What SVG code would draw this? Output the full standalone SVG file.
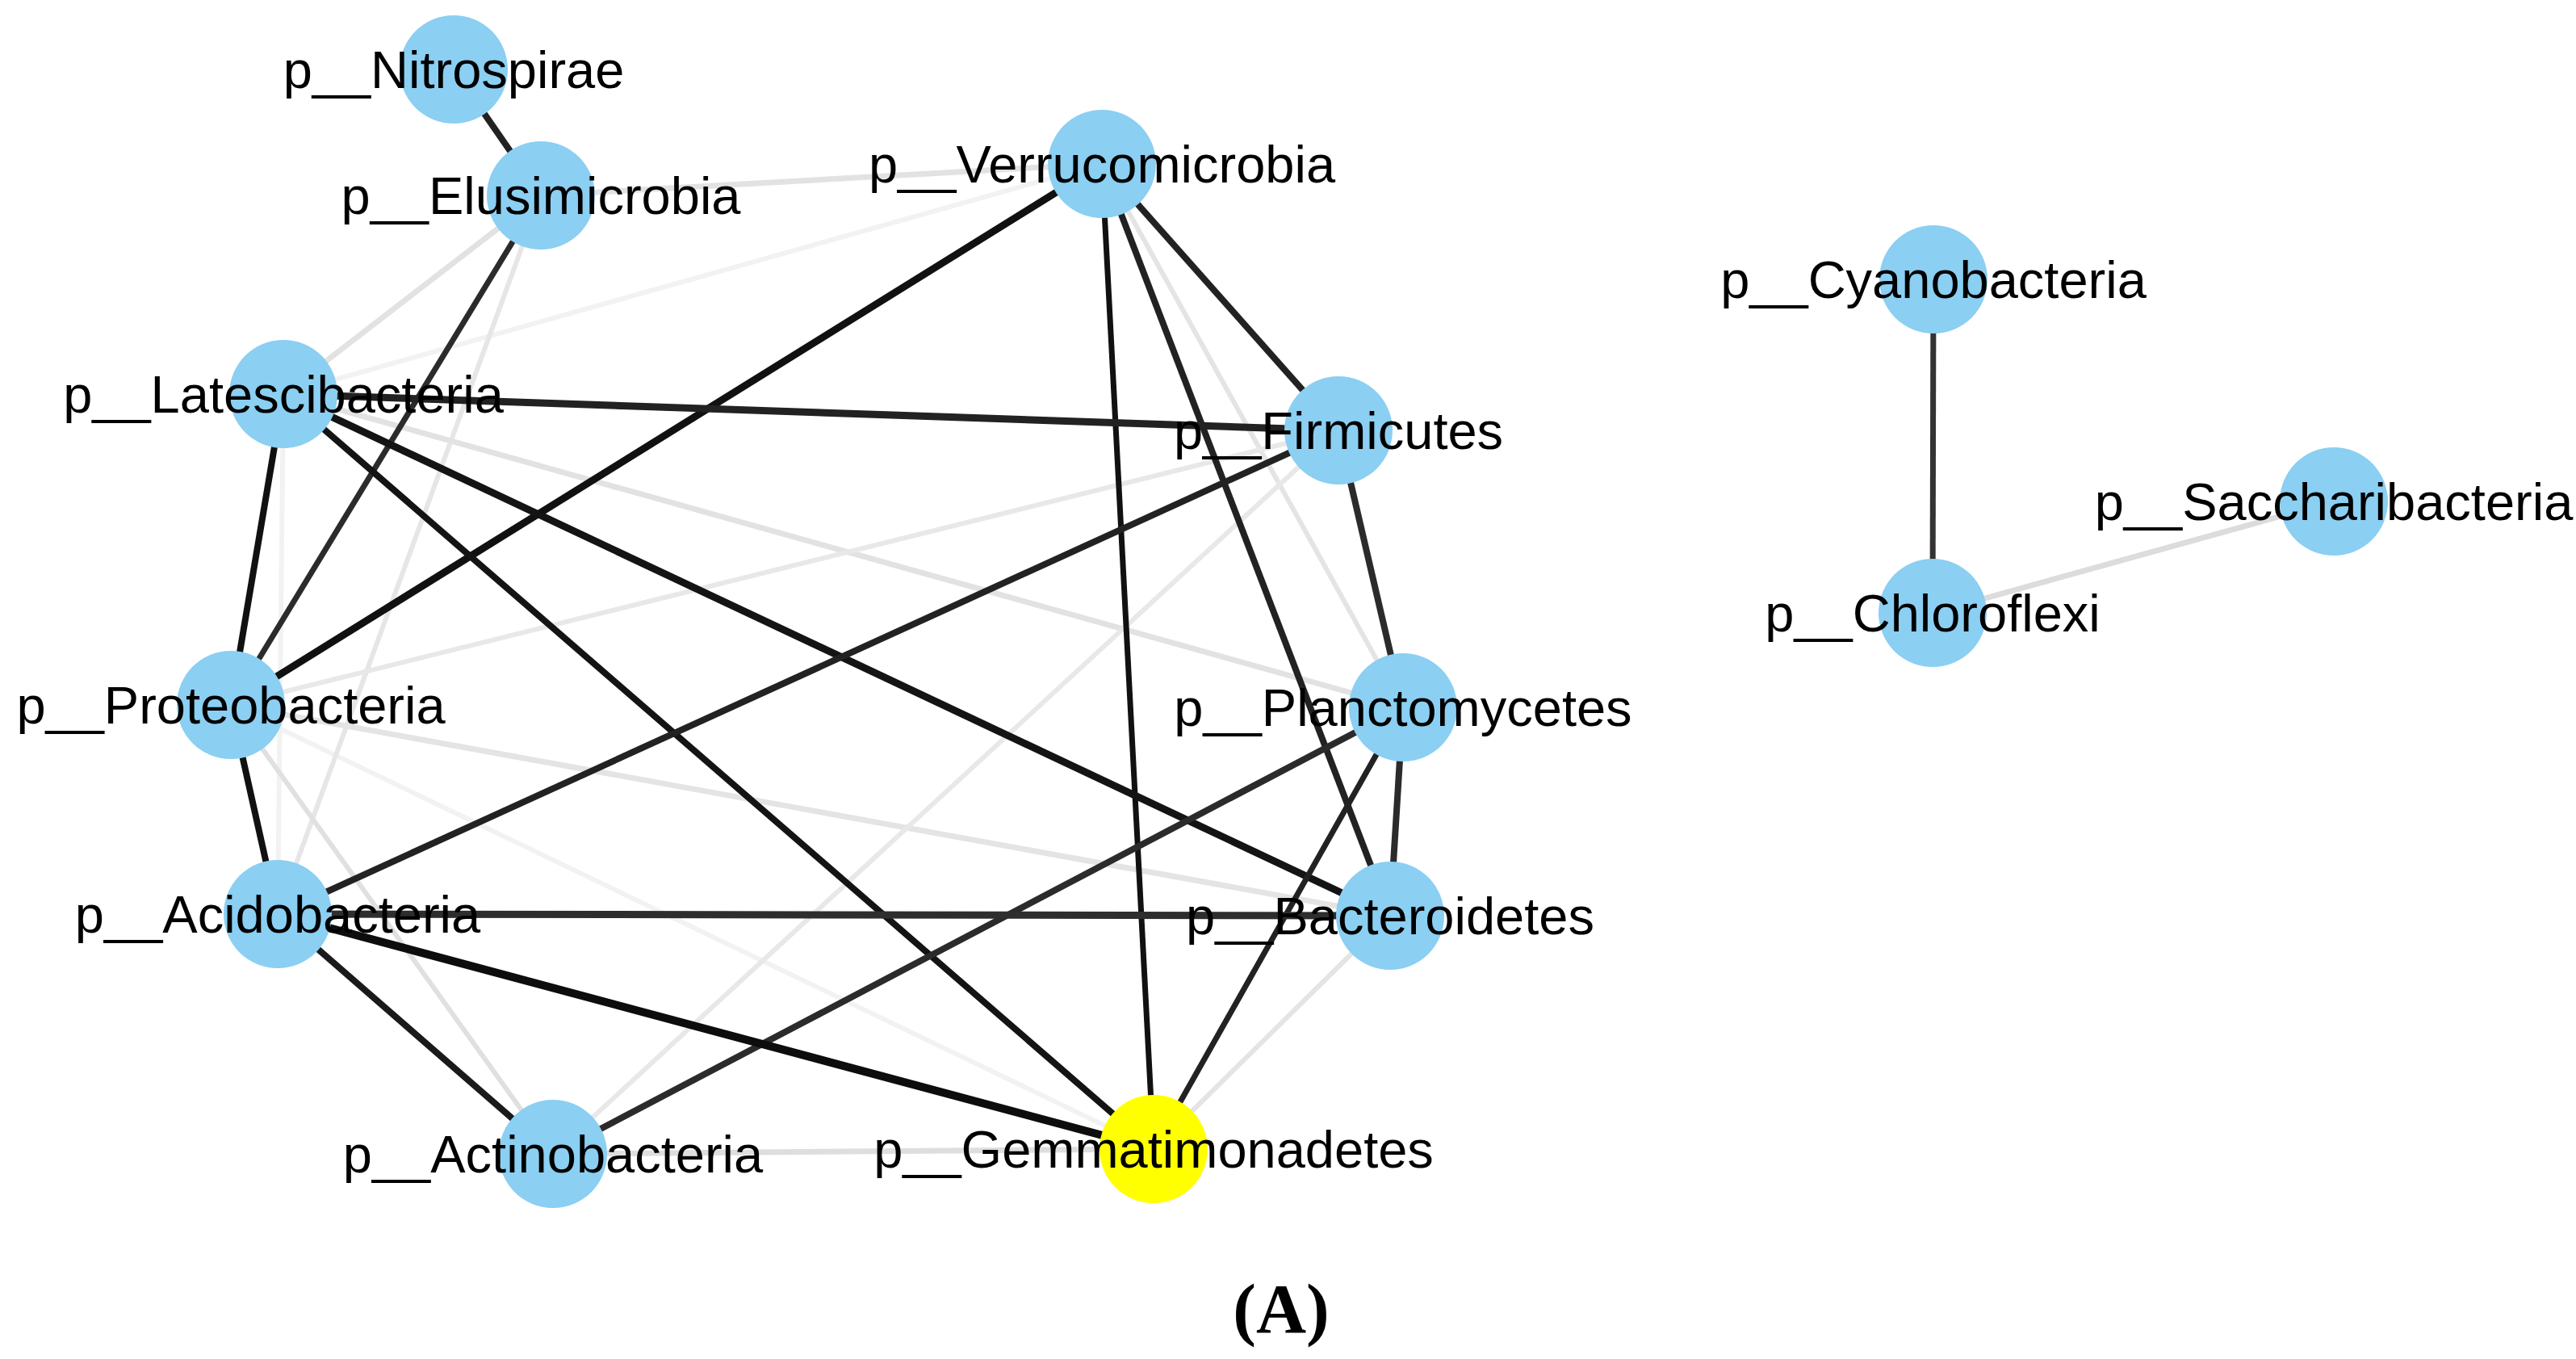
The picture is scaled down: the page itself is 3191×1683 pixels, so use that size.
<svg xmlns="http://www.w3.org/2000/svg" width="3191" height="1683" viewBox="0 0 3191 1683">
<style>
.n{fill:#8BCFF2}
.g{fill:#FFFF00}
.t{font-family:"Liberation Sans",Arial,sans-serif;font-size:65px;fill:#000;text-anchor:middle}
.lt{stroke:#e2e2e2;stroke-width:7;fill:none}
.fa{stroke:#f2f2f2;stroke-width:6;fill:none}
.dk{stroke:#1c1c1c;stroke-width:8;fill:none}
.dm{stroke:#2b2b2b;stroke-width:8;fill:none}
.cap{font-family:"Liberation Serif","Times New Roman",serif;font-size:86px;font-weight:bold;text-anchor:middle;fill:#000}
</style>
<rect width="3191" height="1683" fill="#fff"/>
<g id="connectors">
<line class="fa" x1="351" y1="488" x2="1365" y2="203"/>
<line class="fa" x1="351" y1="488" x2="344" y2="1132"/>
<line class="fa" x1="286" y1="873" x2="1429" y2="1423"/>
<line class="lt" x1="670" y1="242" x2="1365" y2="203"/>
<line class="lt" x1="670" y1="242" x2="351" y2="488"/>
<line class="lt" x1="670" y1="242" x2="344" y2="1132" style="stroke:#e6e6e6;stroke-width:6"/>
<line class="lt" x1="351" y1="488" x2="1738" y2="876"/>
<line class="lt" x1="1365" y1="203" x2="1738" y2="876" style="stroke:#e4e4e4;stroke-width:6"/>
<line class="lt" x1="286" y1="873" x2="1658" y2="533" style="stroke:#e8e8e8;stroke-width:6"/>
<line class="lt" x1="286" y1="873" x2="1722" y2="1134" style="stroke:#e4e4e4"/>
<line class="lt" x1="286" y1="873" x2="685" y2="1429" style="stroke:#e0e0e0;stroke-width:6"/>
<line class="lt" x1="685" y1="1429" x2="1658" y2="533" style="stroke:#e8e8e8;stroke-width:6"/>
<line class="lt" x1="685" y1="1429" x2="1429" y2="1423" style="stroke:#dedede"/>
<line class="lt" x1="1722" y1="1134" x2="1429" y2="1423" style="stroke:#e4e4e4;stroke-width:6"/>
<line class="lt" x1="2394" y1="759" x2="2891" y2="621" style="stroke:#dcdcdc"/>
<line class="dk" x1="562" y1="86" x2="670" y2="242" style="stroke:#222"/>
<line class="dm" x1="670" y1="242" x2="286" y2="873" style="stroke-width:7"/>
<line class="dk" x1="1365" y1="203" x2="286" y2="873" style="stroke:#111;stroke-width:9"/>
<line class="dk" x1="1365" y1="203" x2="1429" y2="1423" style="stroke:#111;stroke-width:7"/>
<line class="dk" x1="1365" y1="203" x2="1722" y2="1134" style="stroke:#222"/>
<line class="dk" x1="1365" y1="203" x2="1658" y2="533" style="stroke:#222"/>
<line class="dm" x1="351" y1="488" x2="1658" y2="533" style="stroke:#222;stroke-width:9"/>
<line class="dk" x1="351" y1="488" x2="286" y2="873" style="stroke:#111"/>
<line class="dk" x1="351" y1="488" x2="1429" y2="1423" style="stroke:#141414"/>
<line class="dk" x1="351" y1="488" x2="1722" y2="1134" style="stroke:#141414;stroke-width:9"/>
<line class="dk" x1="1658" y1="533" x2="344" y2="1132" style="stroke:#222"/>
<line class="dm" x1="1658" y1="533" x2="1738" y2="876"/>
<line class="dk" x1="286" y1="873" x2="344" y2="1132" style="stroke:#111"/>
<line class="dm" x1="1738" y1="876" x2="1722" y2="1134"/>
<line class="dm" x1="1738" y1="876" x2="685" y2="1429"/>
<line class="dk" x1="1738" y1="876" x2="1429" y2="1423" style="stroke:#222;stroke-width:7"/>
<line class="dm" x1="344" y1="1132" x2="1722" y2="1134" style="stroke:#2e2e2e;stroke-width:9"/>
<line class="dk" x1="344" y1="1132" x2="1429" y2="1423" style="stroke:#0d0d0d;stroke-width:10"/>
<line class="dk" x1="344" y1="1132" x2="685" y2="1429" style="stroke:#1a1a1a"/>
<line class="dm" x1="2395" y1="346" x2="2394" y2="759" style="stroke:#333;stroke-width:7"/>
</g>
<g id="node-nitrospirae"><circle class="n" cx="562" cy="86" r="67"/><text class="t" x="562" y="109">p__Nitrospirae</text></g>
<g id="node-elusimicrobia"><circle class="n" cx="670" cy="242" r="67"/><text class="t" x="670" y="265">p__Elusimicrobia</text></g>
<g id="node-verrucomicrobia"><circle class="n" cx="1365" cy="203" r="67"/><text class="t" x="1365" y="226">p__Verrucomicrobia</text></g>
<g id="node-latescibacteria"><circle class="n" cx="351" cy="488" r="67"/><text class="t" x="351" y="511">p__Latescibacteria</text></g>
<g id="node-firmicutes"><circle class="n" cx="1658" cy="533" r="67"/><text class="t" x="1658" y="556">p__Firmicutes</text></g>
<g id="node-proteobacteria"><circle class="n" cx="286" cy="873" r="67"/><text class="t" x="286" y="896">p__Proteobacteria</text></g>
<g id="node-planctomycetes"><circle class="n" cx="1738" cy="876" r="67"/><text class="t" x="1738" y="899">p__Planctomycetes</text></g>
<g id="node-acidobacteria"><circle class="n" cx="344" cy="1132" r="67"/><text class="t" x="344" y="1155">p__Acidobacteria</text></g>
<g id="node-bacteroidetes"><circle class="n" cx="1722" cy="1134" r="67"/><text class="t" x="1722" y="1157">p__Bacteroidetes</text></g>
<g id="node-actinobacteria"><circle class="n" cx="685" cy="1429" r="67"/><text class="t" x="685" y="1452">p__Actinobacteria</text></g>
<g id="node-gemmatimonadetes"><circle class="g" cx="1429" cy="1423" r="67"/><text class="t" x="1429" y="1446">p__Gemmatimonadetes</text></g>
<g id="node-cyanobacteria"><circle class="n" cx="2395" cy="346" r="67"/><text class="t" x="2395" y="369">p__Cyanobacteria</text></g>
<g id="node-chloroflexi"><circle class="n" cx="2394" cy="759" r="67"/><text class="t" x="2394" y="782">p__Chloroflexi</text></g>
<g id="node-saccharibacteria"><circle class="n" cx="2891" cy="621" r="67"/><text class="t" x="2891" y="644">p__Saccharibacteria</text></g>
<text class="cap" x="1587" y="1650">(A)</text>
</svg>
